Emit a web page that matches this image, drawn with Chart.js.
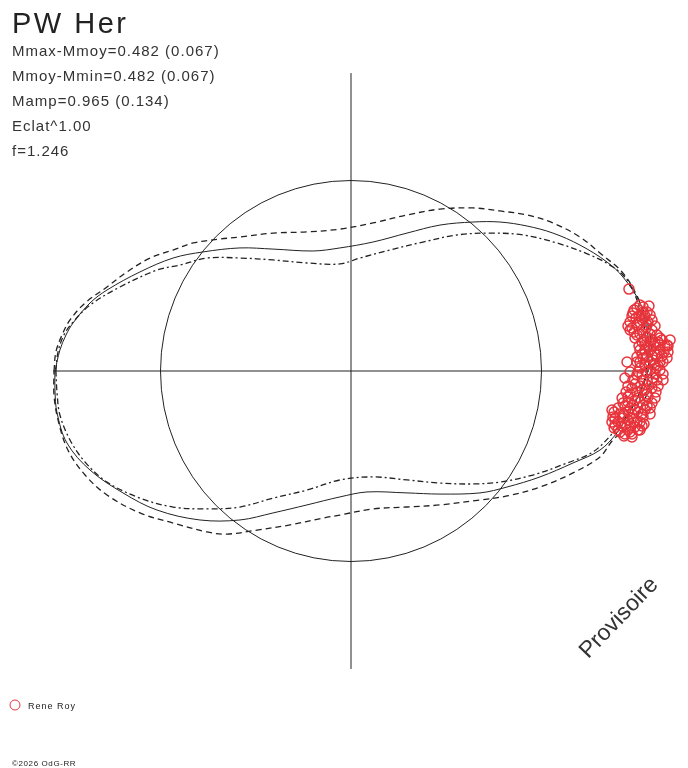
<!DOCTYPE html>
<html>
<head>
<meta charset="utf-8">
<title>PW Her</title>
<script src="https://cdn.jsdelivr.net/npm/chart.js@4/dist/chart.umd.min.js"></script>
<style>
  html, body { margin: 0; padding: 0; background: #fff; }
  #wrap { width: 688px; height: 768px; }
</style>
</head>
<body>
<div id="wrap"><canvas id="chart" width="688" height="768"></canvas></div>
<script>
// courbe ajustee (trait plein), unites = rayon du cercle de reference
const fitX = [-1.554, -1.528, -1.496, -1.459, -1.370, -1.281, -1.108, -0.934, -0.777, -0.583, -0.409, -0.199, -0.058, 0.115, 0.294, 0.467, 0.640, 0.782, 0.924, 1.060, 1.202, 1.344, 1.428, 1.517, 1.554, 1.564, 1.559,
  1.549, 1.507, 1.449, 1.396, 1.307, 1.165, 0.992, 0.819, 0.677, 0.467, 0.294, 0.084, -0.058, -0.231, -0.409, -0.583, -0.793, -1.018, -1.197, -1.370, -1.491, -1.543, -1.554, -1.554];
const fitY = [0, 0.110, 0.189, 0.252, 0.357, 0.425, 0.520, 0.593, 0.625, 0.646, 0.640, 0.630, 0.646, 0.677, 0.724, 0.766, 0.782, 0.782, 0.761, 0.724, 0.661, 0.572, 0.493, 0.357, 0.215, 0.110, 0,
  -0.037, -0.136, -0.241, -0.325, -0.415, -0.483, -0.556, -0.609, -0.640, -0.646, -0.640, -0.635, -0.661, -0.703, -0.745, -0.782, -0.782, -0.730, -0.640, -0.520, -0.378, -0.220, -0.100, 0];

// enveloppe exterieure (tirets)
const outerX = [-1.559, -1.549, -1.517, -1.475, -1.396, -1.281, -1.176, -1.055, -0.934, -0.829, -0.688, -0.583, -0.409, -0.231, -0.058, 0.115, 0.294, 0.467, 0.640, 0.782, 0.924, 1.060, 1.202, 1.307, 1.428, 1.507, 1.559, 1.580, 1.580,
  1.570, 1.528, 1.465, 1.375, 1.307, 1.165, 0.992, 0.819, 0.677, 0.467, 0.294, 0.115, -0.058, -0.147, -0.320, -0.493, -0.651, -0.756, -0.934, -1.108, -1.281, -1.396, -1.486, -1.538, -1.559, -1.559];
const outerY = [0, 0.100, 0.189, 0.268, 0.357, 0.441, 0.520, 0.593, 0.635, 0.672, 0.693, 0.703, 0.724, 0.730, 0.745, 0.777, 0.819, 0.850, 0.856, 0.840, 0.819, 0.777, 0.703, 0.619, 0.514, 0.383, 0.241, 0.110, 0,
  -0.073, -0.178, -0.283, -0.362, -0.451, -0.535, -0.609, -0.656, -0.677, -0.703, -0.714, -0.724, -0.756, -0.772, -0.808, -0.835, -0.856, -0.845, -0.798, -0.745, -0.651, -0.546, -0.415, -0.257, -0.126, 0];

// enveloppe interieure (tirets)
const innerX = [-1.549, -1.538, -1.507, -1.459, -1.370, -1.213, -1.018, -0.898, -0.756, -0.583, -0.409, -0.231, -0.058, 0.047, 0.205, 0.378, 0.556, 0.730, 0.903, 1.081, 1.255, 1.375, 1.449, 1.507, 1.543, 1.554, 1.549,
  1.533, 1.496, 1.438, 1.375, 1.270, 1.134, 0.955, 0.782, 0.640, 0.467, 0.294, 0.115, -0.058, -0.231, -0.409, -0.583, -0.756, -0.934, -1.108, -1.281, -1.396, -1.475, -1.528, -1.543, -1.549];
const innerY = [0, 0.100, 0.189, 0.257, 0.346, 0.441, 0.530, 0.556, 0.593, 0.593, 0.583, 0.567, 0.562, 0.593, 0.635, 0.677, 0.714, 0.724, 0.714, 0.672, 0.609, 0.546, 0.478, 0.357, 0.215, 0.100, 0,
  -0.073, -0.152, -0.247, -0.325, -0.425, -0.483, -0.546, -0.583, -0.593, -0.588, -0.572, -0.556, -0.572, -0.625, -0.667, -0.714, -0.724, -0.714, -0.667, -0.583, -0.478, -0.362, -0.231, -0.115, 0];

// observations Rene Roy
const obsX = [1.459, 1.533, 1.480, 1.533, 1.570, 1.465, 1.517, 1.559, 1.475, 1.528, 1.580, 1.501, 1.554, 1.606, 1.633, 1.675, 1.659, 1.596, 1.543, 1.517,
  1.570, 1.622, 1.664, 1.501, 1.554, 1.606, 1.659, 1.449, 1.533, 1.585, 1.517, 1.570, 1.622, 1.438, 1.480, 1.533, 1.585, 1.638, 1.475, 1.528,
  1.580, 1.454, 1.507, 1.559, 1.428, 1.480, 1.533, 1.580, 1.402, 1.454, 1.507, 1.375, 1.428, 1.480, 1.533, 1.386, 1.438, 1.491, 1.412, 1.465,
  1.507, 1.370, 1.517, 1.496, 1.549, 1.580, 1.622, 1.543, 1.596, 1.501, 1.554, 1.501, 1.543, 1.454, 1.517, 1.402, 1.475, 1.433,
  1.501, 1.554, 1.475, 1.528, 1.580, 1.501, 1.554, 1.465, 1.517, 1.570, 1.622, 1.528, 1.570, 1.648, 1.543, 1.596, 1.528, 1.638, 1.570, 1.501,
  1.528, 1.596, 1.454, 1.517, 1.612, 1.554, 1.465, 1.423, 1.517, 1.596, 1.438, 1.554, 1.491, 1.412, 1.475, 1.570, 1.370, 1.501, 1.465, 1.402,
  1.528, 1.438, 1.386, 1.612, 1.664, 1.491, 1.543, 1.454, 1.580, 1.638,
  1.486, 1.538, 1.596, 1.486, 1.538, 1.591, 1.643, 1.512, 1.580, 1.633, 1.517, 1.601, 1.549, 1.491, 1.543, 1.601, 1.444, 1.491, 1.543, 1.465,
  1.528, 1.433, 1.381, 1.486, 1.423, 1.517, 1.454, 1.381, 1.475, 1.538, 1.570, 1.606, 1.559, 1.612, 1.512, 1.454, 1.564, 1.507, 1.465, 1.622];
const obsY = [0.430, 0.336, 0.304, 0.310, 0.294, 0.257, 0.252, 0.257, 0.226, 0.215, 0.215, 0.189, 0.178, 0.189, 0.163, 0.163, 0.136, 0.147, 0.136, 0.110,
  0.110, 0.110, 0.100, 0.073, 0.073, 0.084, 0.068, 0.047, 0.068, 0.058, 0.016, 0.005, 0.005, -0.037, -0.047, -0.047, -0.037, -0.047, -0.089, -0.100,
  -0.089, -0.136, -0.142, -0.136, -0.168, -0.178, -0.178, -0.168, -0.194, -0.215, -0.215, -0.241, -0.247, -0.247, -0.241, -0.283, -0.283, -0.294, -0.320, -0.320,
  -0.310, -0.205, 0.346, 0.278, 0.226, 0.163, 0.136, 0.031, 0.031, -0.021, -0.073, -0.110, -0.205, -0.257, -0.268, -0.268, -0.346, -0.341,
  0.331, 0.310, 0.289, 0.268, 0.268, 0.241, 0.241, 0.215, 0.194, 0.194, 0.173, 0.152, 0.152, 0.131, 0.110, 0.089, 0.089, 0.047, 0.047, 0.047,
  -0.016, -0.016, -0.079, -0.079, -0.079, -0.121, -0.121, -0.142, -0.163, -0.142, -0.184, -0.184, -0.205, -0.226, -0.226, -0.226, -0.268, -0.268, -0.289, -0.310,
  -0.289, -0.331, -0.247, 0.026, 0.131, 0.173, 0.289, -0.163, -0.058, -0.016,
  0.320, 0.278, 0.236, 0.205, 0.163, 0.131, 0.100, 0.131, 0.079, 0.079, 0.047, 0.016, -0.005, -0.068, -0.100, -0.110, -0.110, -0.152, -0.152, -0.194,
  -0.226, -0.226, -0.215, -0.268, -0.289, -0.310, -0.310, -0.299, -0.331, -0.278, -0.194, -0.047, 0.131, 0.152, 0.289, 0.236, 0.341, -0.005, -0.005, 0.047];

const infoLines = ['Mmax-Mmoy=0.482 (0.067)', 'Mmoy-Mmin=0.482 (0.067)', 'Mamp=0.965 (0.134)', 'Eclat^1.00', 'f=1.246'];
const starName = 'PW Her';
const observer = 'Rene Roy';

const ink = '#222';
const red = 'rgb(232,52,60)';
const unitPx = 190.5;   // pixels par unite (rayon du cercle)
const axisReach = 1.564;

function pts(xs, ys) {
  return xs.map((x, i) => ({ x: x, y: ys[i] }));
}

// cercle, axes et textes
const decor = {
  id: 'decor',
  beforeDatasetsDraw(chart) {
    const c = chart.ctx, sx = chart.scales.x, sy = chart.scales.y;
    const cx = sx.getPixelForValue(0), cy = sy.getPixelForValue(0);
    c.save();
    c.strokeStyle = ink;
    c.lineWidth = 1;
    c.beginPath();
    c.moveTo(sx.getPixelForValue(-axisReach), cy);
    c.lineTo(sx.getPixelForValue(axisReach), cy);
    c.moveTo(cx, sy.getPixelForValue(axisReach));
    c.lineTo(cx, sy.getPixelForValue(-axisReach));
    c.stroke();
    c.beginPath();
    c.arc(cx, cy, sx.getPixelForValue(1) - cx, 0, Math.PI * 2);
    c.stroke();
    c.restore();
  },
  afterDraw(chart) {
    const c = chart.ctx;
    c.save();
    c.fillStyle = ink;
    c.textBaseline = 'alphabetic';
    c.font = '29px "Liberation Sans", Arial, sans-serif';
    c.letterSpacing = '2.5px';
    c.fillText(starName, 12, 33);
    c.font = '15px "Liberation Sans", Arial, sans-serif';
    c.fillStyle = '#333';
    c.letterSpacing = '1px';
    infoLines.forEach((t, i) => c.fillText(t, 12, 56 + i * 25));

    // legende
    c.strokeStyle = red;
    c.lineWidth = 1;
    c.beginPath();
    c.arc(15, 705, 5, 0, Math.PI * 2);
    c.stroke();
    c.fillStyle = ink;
    c.font = '9px "Liberation Sans", Arial, sans-serif';
    c.letterSpacing = '1px';
    c.fillText(observer, 28, 709);
    c.font = '8px "Liberation Sans", Arial, sans-serif';
    c.letterSpacing = '0.6px';
    c.fillText('\u00a92026 OdG-RR', 12, 766);

    // filigrane
    c.letterSpacing = '0px';
    c.translate(619, 618);
    c.rotate(-Math.PI / 4 - 0.02);
    c.font = '23px "Liberation Sans", Arial, sans-serif';
    c.fillStyle = '#333';
    c.textAlign = 'center';
    c.textBaseline = 'middle';
    c.fillText('Provisoire', 0, 0);
    c.restore();
  }
};

const lineSet = (label, data, dash, width, order) => ({
  label: label,
  data: data,
  showLine: true,
  borderColor: ink,
  borderWidth: width,
  borderDash: dash,
  pointRadius: 0,
  tension: 0.35,
  fill: false,
  order: order
});

new Chart(document.getElementById('chart'), {
  type: 'scatter',
  data: {
    datasets: [
      {
        label: observer,
        data: pts(obsX, obsY),
        pointStyle: 'circle',
        pointRadius: 5,
        borderWidth: 1.5,
        borderColor: red,
        backgroundColor: 'rgba(0,0,0,0)',
        order: 0
      },
      lineSet('fit', pts(fitX, fitY), [], 1, 1),
      lineSet('outer', pts(outerX, outerY), [6, 4], 1.3, 2),
      lineSet('inner', pts(innerX, innerY), [6, 3, 2, 3], 1.3, 3)
    ]
  },
  options: {
    responsive: false,
    animation: false,
    devicePixelRatio: 1,
    layout: { padding: 0, autoPadding: false },
    plugins: { legend: { display: false }, title: { display: false }, tooltip: { enabled: false } },
    scales: {
      x: { type: 'linear', display: false, min: -351 / unitPx, max: 337 / unitPx },
      y: { type: 'linear', display: false, min: -397 / unitPx, max: 371 / unitPx }
    }
  },
  plugins: [decor]
});
</script>
</body>
</html>
